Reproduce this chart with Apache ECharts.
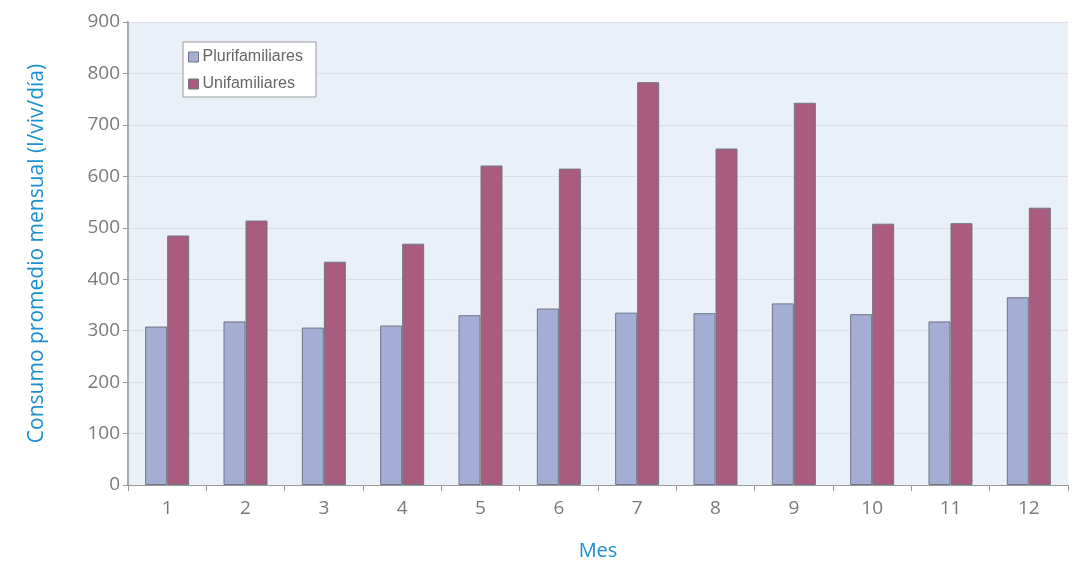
<!DOCTYPE html>
<html><head><meta charset="utf-8">
<script src="https://cdn.jsdelivr.net/npm/echarts@6/dist/echarts.min.js"></script>
<style>html,body{margin:0;padding:0;background:#fff}#c{width:1075px;height:565px}</style>
</head><body><div id="c"></div>
<script>
const categories = ['1','2','3','4','5','6','7','8','9','10','11','12'];
const plurifamiliares = [308, 318, 306, 310, 330, 343, 335, 334, 353, 332, 318, 365];
const unifamiliares = [485, 514, 434, 469, 621, 615, 783, 654, 743, 508, 509, 539];
const yTicks = [0, 100, 200, 300, 400, 500, 600, 700, 800, 900];

const chart = echarts.init(document.getElementById('c'));
const axisFont = {fontFamily: 'Open Sans', fontSize: 19, color: '#7a7a7a'};
chart.setOption({
  animation: false,
  grid: {left: 128, right: 7, top: 22, bottom: 80, show: true, backgroundColor: '#eaf0f8', borderWidth: 0,
         outerBoundsMode: 'none', containLabel: false},
  legend: {
    orient: 'vertical', left: 183, top: 42,
    backgroundColor: '#fff', borderColor: '#999', borderWidth: 1,
    padding: [7, 13, 5, 5], itemGap: 11,
    itemWidth: 10, itemHeight: 10, icon: 'rect',
    itemStyle: {borderColor: '#707485', borderWidth: 1},
    textStyle: {fontFamily: 'Liberation Sans', fontSize: 16, color: '#666', padding: [0,0,0,-1]},
    data: ['Plurifamiliares', 'Unifamiliares']
  },
  xAxis: {
    type: 'category', data: categories,
    name: 'Mes', nameLocation: 'middle', nameGap: 56,
    nameTextStyle: {fontFamily: 'Open Sans', fontSize: 20, color: '#1b8fd0'},
    axisLine: {lineStyle: {color: '#999'}},
    axisTick: {show: true, length: 6, lineStyle: {color: '#999'}},
    axisLabel: Object.assign({margin: 14}, axisFont)
  },
  yAxis: {
    type: 'value', min: yTicks[0], max: yTicks[yTicks.length-1], interval: 100,
    name: 'Consumo promedio mensual (l/viv/día)', nameLocation: 'middle', nameGap: 80,
    nameTextStyle: {fontFamily: 'Open Sans', fontSize: 21, color: '#1b8fd0'},
    axisLine: {show: true, lineStyle: {color: '#aaa', width: 2}},
    axisTick: {show: true, length: 5, lineStyle: {color: '#999'}},
    axisLabel: Object.assign({margin: 8}, axisFont),
    splitLine: {lineStyle: {color: '#d9dee7'}}
  },
  series: [
    {name: 'Plurifamiliares', type: 'bar', data: plurifamiliares, barWidth: 22, barGap: '0%',
     itemStyle: {color: '#a4aed4', borderColor: '#707485', borderWidth: 1}},
    {name: 'Unifamiliares', type: 'bar', data: unifamiliares, barWidth: 22, barGap: '0%',
     itemStyle: {color: '#a95c7e', borderColor: '#707485', borderWidth: 1}}
  ]
});
</script></body></html>
